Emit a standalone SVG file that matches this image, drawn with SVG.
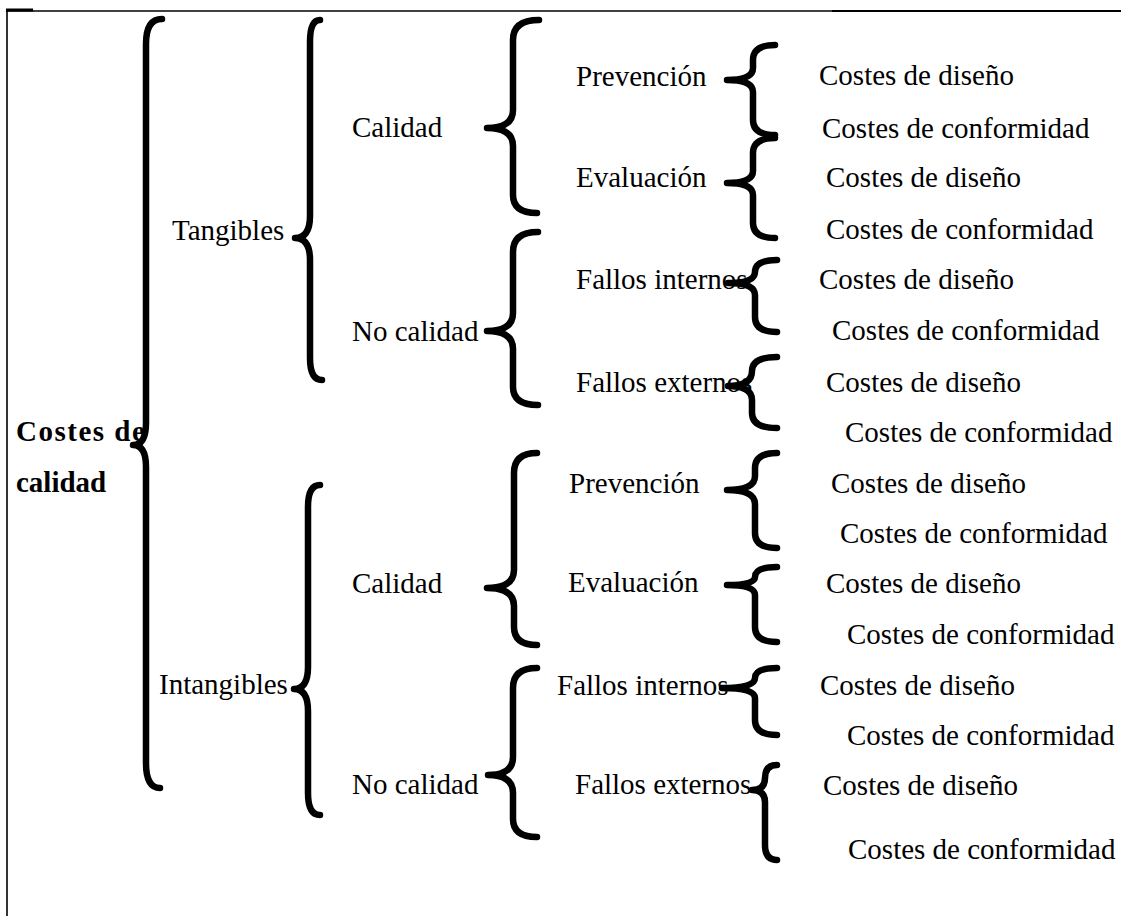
<svg xmlns="http://www.w3.org/2000/svg" width="1121" height="916" viewBox="0 0 1121 916">
<style>
.t{font-family:"Liberation Serif","Times New Roman",serif;font-size:29px;fill:#000}
.b{font-weight:bold}
.br{fill:none;stroke:#000;stroke-width:6.5;stroke-linecap:round;stroke-linejoin:round}
.fr{stroke:#000;fill:none}
</style>
<rect width="1121" height="916" fill="#fff"/>
<g id="frame">
<line class="fr" x1="7" y1="11" x2="7" y2="916" stroke-width="1.6"/>
<line class="fr" x1="6" y1="11" x2="832" y2="11" stroke-width="1.4"/>
<line class="fr" x1="832" y1="11" x2="1121" y2="11" stroke-width="2.2"/>
<line class="fr" x1="6" y1="10" x2="33" y2="10" stroke-width="3"/>
</g>
<g id="connectors">
<path class="br" d="M162,19 Q146,19 146,44 L146,423 Q146,445 133,445 Q146,445 146,467 L146,763 Q146,788 160,788"/>
<path class="br" d="M320,20 Q310,20 310,42 L310,216 Q310,238 295,238 Q310,238 310,260 L310,358 Q310,380 322,380"/>
<path class="br" d="M320,485 Q308,485 308,507 L308,667 Q308,689 294,689 Q308,689 308,711 L308,793 Q308,815 320,815"/>
<path class="br" d="M539,20 Q513,20 513,40 L513,110 Q513,128 487,128 Q513,128 513,146 L513,195 Q513,213 537,213"/>
<path class="br" d="M538,232 Q513,232 513,252 L513,313 Q513,331 487,331 Q513,331 513,349 L513,387 Q513,405 538,405"/>
<path class="br" d="M537,453 Q514,453 514,473 L514,570 Q514,588 487,588 Q514,588 514,606 L514,627 Q514,645 537,645"/>
<path class="br" d="M537,668 Q513,668 513,688 L513,757 Q513,775 488,775 Q513,775 513,793 L513,819 Q513,837 537,837"/>
<path class="br" d="M775,45 Q753,45 753,60 L753,68 Q753,80 727,80 Q753,80 753,92 L753,120 Q753,135 775,135"/>
<path class="br" d="M775,138 Q753,138 753,153 L753,171 Q753,183 727,183 Q753,183 753,195 L753,223 Q753,238 775,238"/>
<path class="br" d="M777,260 Q755,260 755,272 Q755,283 728,283 Q755,283 755,295 L755,317 Q755,332 777,332"/>
<path class="br" d="M777,357 Q752,357 752,371 Q752,386 728,386 Q752,386 752,400 L752,413 Q752,428 777,428"/>
<path class="br" d="M777,453 Q755,453 755,468 L755,476 Q755,490 727,490 Q755,490 755,504 L755,533 Q755,548 777,548"/>
<path class="br" d="M777,567 Q755,567 755,577 Q755,585 727,585 Q755,585 755,595 L755,627 Q755,642 777,642"/>
<path class="br" d="M777,668 Q755,668 755,678 Q755,688 722,688 Q755,688 755,698 L755,720 Q755,735 777,735"/>
<path class="br" d="M777,765 Q765,765 765,778 Q765,790 752,790 Q765,790 765,802 L765,845 Q765,860 777,860"/>
</g>
<g id="root"><text class="t b" x="16" y="441" letter-spacing="1.5">Costes de</text><text class="t b" x="16" y="492">calidad</text></g>
<g id="tangibles"><text class="t" x="172" y="240">Tangibles</text></g>
<g id="intangibles"><text class="t" x="159" y="694">Intangibles</text></g>
<g id="t-calidad"><text class="t" x="352" y="137">Calidad</text></g>
<g id="t-nocalidad"><text class="t" x="352" y="341">No calidad</text></g>
<g id="i-calidad"><text class="t" x="352" y="593">Calidad</text></g>
<g id="i-nocalidad"><text class="t" x="352" y="794">No calidad</text></g>
<g id="t-prev"><text class="t" x="576" y="86">Prevención</text></g>
<g id="t-eval"><text class="t" x="576" y="187">Evaluación</text></g>
<g id="t-fint"><text class="t" x="576" y="289">Fallos internos</text></g>
<g id="t-fext"><text class="t" x="576" y="392">Fallos externos</text></g>
<g id="i-prev"><text class="t" x="569" y="493">Prevención</text></g>
<g id="i-eval"><text class="t" x="568" y="592">Evaluación</text></g>
<g id="i-fint"><text class="t" x="557" y="695">Fallos internos</text></g>
<g id="i-fext"><text class="t" x="575" y="794">Fallos externos</text></g>
<g id="r1"><text class="t" x="819" y="85">Costes de diseño</text></g>
<g id="r2"><text class="t" x="822" y="138">Costes de conformidad</text></g>
<g id="r3"><text class="t" x="826" y="187">Costes de diseño</text></g>
<g id="r4"><text class="t" x="826" y="239">Costes de conformidad</text></g>
<g id="r5"><text class="t" x="819" y="289">Costes de diseño</text></g>
<g id="r6"><text class="t" x="832" y="340">Costes de conformidad</text></g>
<g id="r7"><text class="t" x="826" y="392">Costes de diseño</text></g>
<g id="r8"><text class="t" x="845" y="442">Costes de conformidad</text></g>
<g id="r9"><text class="t" x="831" y="493">Costes de diseño</text></g>
<g id="r10"><text class="t" x="840" y="543">Costes de conformidad</text></g>
<g id="r11"><text class="t" x="826" y="593">Costes de diseño</text></g>
<g id="r12"><text class="t" x="847" y="644">Costes de conformidad</text></g>
<g id="r13"><text class="t" x="820" y="695">Costes de diseño</text></g>
<g id="r14"><text class="t" x="847" y="745">Costes de conformidad</text></g>
<g id="r15"><text class="t" x="823" y="795">Costes de diseño</text></g>
<g id="r16"><text class="t" x="848" y="859">Costes de conformidad</text></g>
</svg>
